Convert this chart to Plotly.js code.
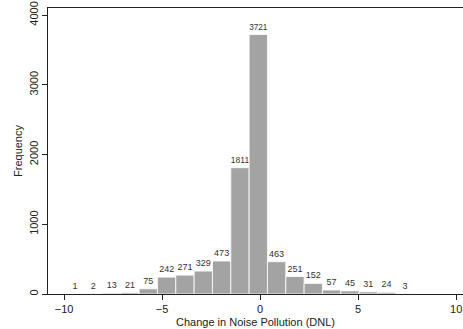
<!DOCTYPE html>
<html>
<head>
<meta charset="utf-8">
<script src="https://cdn.plot.ly/plotly-3.0.1.min.js"></script>
<style>html,body{margin:0;padding:0;overflow:hidden;background:#fff}</style>
</head>
<body>
<div id="chart" style="width:463px;height:329px"></div>
<script>
// Histogram counts (19 bins)
const counts = [1, 2, 13, 21, 75, 242, 271, 329, 473, 1811, 3721, 463, 251, 152, 57, 45, 31, 24, 3];
const binStart = -9.91;   // lower edge of the first bin
const binWidth = 0.935;   // bin width
const xTickVals = [-10, -5, 0, 5, 10];
const yTickVals = [0, 1000, 2000, 3000, 4000];

const centers = counts.map((_, i) => binStart + binWidth * (i + 0.5));

const trace = {
  type: 'bar',
  x: centers,
  y: counts,
  width: binWidth,
  marker: {color: '#a3a3a3', line: {color: '#ffffff', width: 0.8}},
  text: counts.map(String),
  textposition: 'outside',
  cliponaxis: false,
  textfont: {family: 'Liberation Sans, Arial, sans-serif', size: 9, color: '#333333'},
  hoverinfo: 'none'
};

const layout = {
  width: 463,
  height: 329,
  margin: {l: 48, r: 0, t: 8, b: 35},
  paper_bgcolor: '#ffffff',
  plot_bgcolor: '#ffffff',
  showlegend: false,
  bargap: 0,
  font: {family: 'Liberation Sans, Arial, sans-serif', color: '#222222'},
  xaxis: {
    range: [-10.82, 10.35],
    tickvals: xTickVals,
    ticks: 'outside', ticklen: 5, tickcolor: '#222', tickwidth: 1,
    showline: true, linecolor: '#222', linewidth: 1, mirror: true,
    showgrid: false, zeroline: false,
    tickfont: {size: 11, color: '#222'},
    title: {text: 'Change in Noise Pollution (DNL)', font: {size: 11, color: '#222'}, standoff: 4}
  },
  yaxis: {
    range: [0, 4101],
    tickvals: yTickVals,
    tickangle: -90,
    ticks: 'outside', ticklen: 5, tickcolor: '#222', tickwidth: 1,
    showline: true, linecolor: '#222', linewidth: 1,
    showgrid: false, zeroline: false,
    tickfont: {size: 11, color: '#222'},
    title: {text: 'Frequency', font: {size: 11, color: '#222'}, standoff: 2}
  }
};

Plotly.newPlot('chart', [trace], layout, {displayModeBar: false, staticPlot: true});
</script>
</body>
</html>
